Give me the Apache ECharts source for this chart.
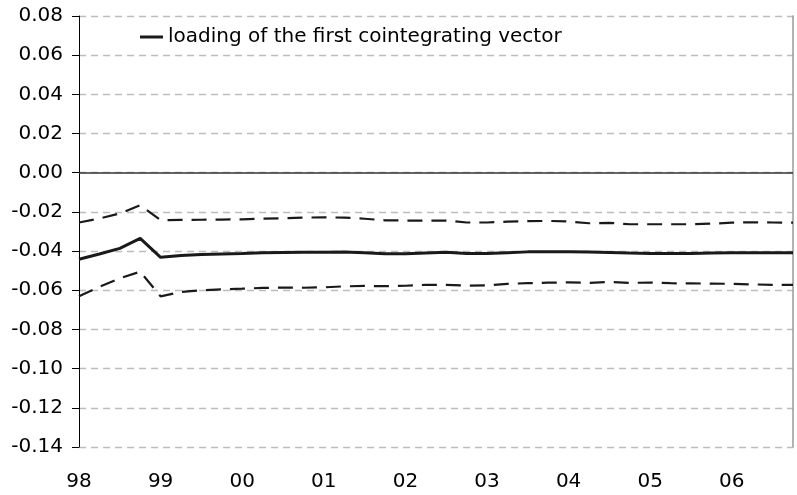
<!DOCTYPE html>
<html>

<head>
    <meta charset="utf-8">
    <title>ECharts</title>
    <script src="https://cdn.jsdelivr.net/npm/echarts@6/dist/echarts.min.js"></script>
</head>

<body style="margin:0">
    <div id="main" style="width: 797px;height:495px;"></div>
    <script type="text/javascript">
        // years on the axis (one label per year, quarterly data)
        let yearLabels = ['98', '99', '00', '01', '02', '03', '04', '05', '06']
        let quarters = ['Q1', 'Q2', 'Q3', 'Q4']
        let seriesName = 'loading of the first cointegrating vector'

        // loading of the first cointegrating vector
        let loading = [-0.0442, -0.0415, -0.0386, -0.0335, -0.0432, -0.0423, -0.0418, -0.0415, -0.0412, -0.0408,
            -0.0407, -0.0406, -0.0406, -0.0405, -0.0408, -0.0414, -0.0414, -0.0410, -0.0406, -0.0412,
            -0.0412, -0.0408, -0.0404, -0.0403, -0.0403, -0.0405, -0.0407, -0.0410, -0.0412, -0.0412,
            -0.0412, -0.0410, -0.0408, -0.0408, -0.0408, -0.0408]
        // upper band
        let upper = [-0.0254, -0.0234, -0.0208, -0.0166, -0.0242, -0.0241, -0.0240, -0.0239, -0.0238, -0.0234,
            -0.0233, -0.0229, -0.0228, -0.0229, -0.0235, -0.0243, -0.0244, -0.0244, -0.0244, -0.0254,
            -0.0254, -0.0250, -0.0247, -0.0246, -0.0249, -0.0258, -0.0256, -0.0263, -0.0263, -0.0263,
            -0.0263, -0.0260, -0.0255, -0.0253, -0.0254, -0.0255]
        // lower band
        let lower = [-0.0631, -0.0582, -0.0539, -0.0505, -0.0631, -0.0609, -0.0600, -0.0595, -0.0592, -0.0588,
            -0.0586, -0.0587, -0.0585, -0.0580, -0.0578, -0.0579, -0.0577, -0.0572, -0.0572, -0.0576,
            -0.0575, -0.0567, -0.0564, -0.0561, -0.0560, -0.0562, -0.0558, -0.0562, -0.0561, -0.0564,
            -0.0565, -0.0566, -0.0567, -0.0570, -0.0572, -0.0572]

        // category per quarter
        let categories = []
        yearLabels.forEach(function (y) {
            quarters.forEach(function (q) {
                categories.push(y + q)
            })
        })

        let font = 'DejaVu Sans'
        let myChart = echarts.init(document.getElementById('main'))

        let bandStyle = { color: '#1a1a1a', width: 2.2, type: [15, 9] }

        let option = {
            animation: false,
            backgroundColor: '#fff',
            grid: { left: 79, right: 4, top: 16, bottom: 48 },
            legend: {
                data: [seriesName],
                left: 135,
                top: 22,
                icon: 'rect',
                itemWidth: 23,
                itemHeight: 3,
                textStyle: { fontFamily: font, fontSize: 20, color: '#000' }
            },
            xAxis: {
                type: 'category',
                boundaryGap: false,
                data: categories,
                axisLine: { show: false },
                axisTick: { show: false },
                axisLabel: {
                    interval: function (idx) { return idx % 4 === 0 },
                    formatter: function (v) { return v.slice(0, 2) },
                    fontFamily: font,
                    fontSize: 20,
                    color: '#000',
                    margin: 25
                }
            },
            yAxis: [{
                type: 'value',
                min: -0.14,
                max: 0.08,
                interval: 0.02,
                axisLine: { show: true, lineStyle: { color: '#000', width: 1 } },
                axisTick: { show: true, length: 7, lineStyle: { color: '#000' } },
                axisLabel: {
                    formatter: function (v) { return v.toFixed(2) },
                    fontFamily: font,
                    fontSize: 20,
                    color: '#000',
                    margin: 16
                },
                splitLine: { lineStyle: { color: '#bdbdbd', width: 1.3, type: [7, 5] } }
            }, {
                // right border of the plot
                type: 'value',
                position: 'right',
                min: -0.14,
                max: 0.08,
                interval: 0.02,
                axisLine: { show: true, lineStyle: { color: '#9a9a9a', width: 1.5 } },
                axisTick: { show: false },
                axisLabel: { show: false },
                splitLine: { show: false }
            }],
            series: [
                {
                    name: 'upper',
                    type: 'line',
                    data: upper,
                    showSymbol: false,
                    lineStyle: bandStyle
                },
                {
                    name: 'lower',
                    type: 'line',
                    data: lower,
                    showSymbol: false,
                    lineStyle: bandStyle
                },
                {
                    name: seriesName,
                    type: 'line',
                    data: loading,
                    showSymbol: false,
                    lineStyle: { color: '#1a1a1a', width: 3 },
                    itemStyle: { color: '#1a1a1a' },
                    markLine: {
                        silent: true,
                        symbol: 'none',
                        label: { show: false },
                        lineStyle: { color: '#333', width: 1.5, type: 'solid' },
                        data: [{ yAxis: 0 }]
                    }
                }
            ]
        }

        myChart.setOption(option)
    </script>
</body>

</html>
